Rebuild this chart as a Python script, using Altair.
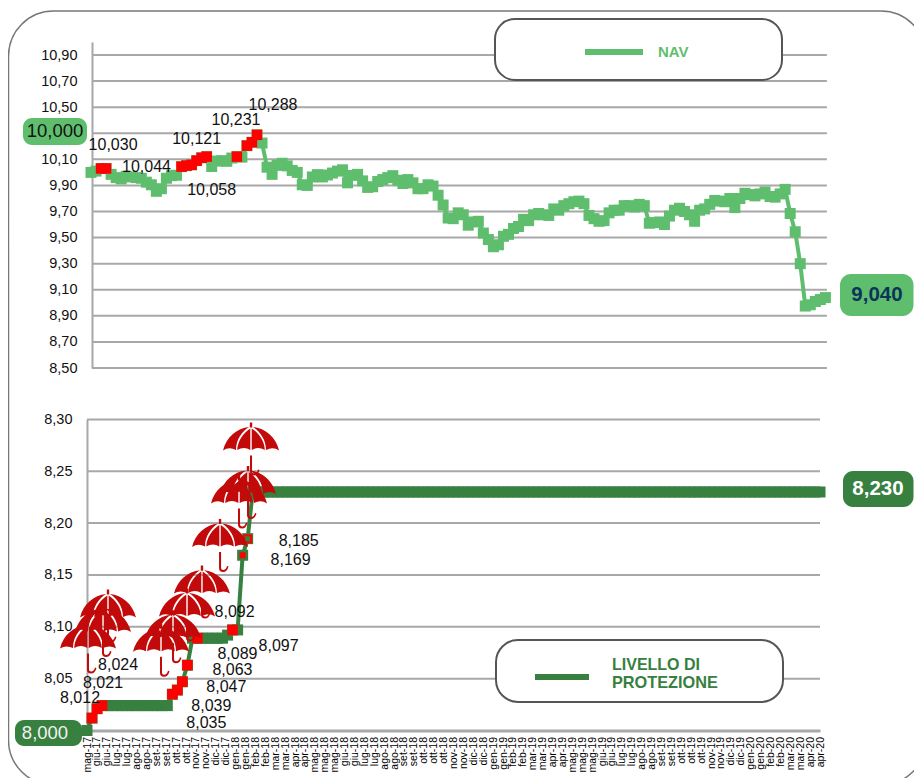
import json
import re
import altair as alt
import pandas as pd

period_labels = ["mag-17","giu-17","giu-17","lug-17","lug-17","ago-17","ago-17","set-17","set-17","ott-17","ott-17","nov-17","nov-17","dic-17","dic-17",
 "gen-18","gen-18","feb-18","feb-18","mar-18","mar-18","apr-18","apr-18","mag-18","mag-18","mag-18","giu-18","giu-18","lug-18","lug-18","ago-18","ago-18","set-18","set-18","ott-18","ott-18","ott-18","nov-18","nov-18","dic-18","dic-18",
 "gen-19","gen-19","feb-19","feb-19","mar-19","mar-19","apr-19","apr-19","mag-19","mag-19","mag-19","giu-19","giu-19","lug-19","lug-19","ago-19","ago-19","set-19","set-19","ott-19","ott-19","ott-19","nov-19","nov-19","dic-19","dic-19",
 "gen-20","gen-20","feb-20","feb-20","mar-20","mar-20","apr-20","apr-20"]

nav = [10.00,10.01,10.03,10.03,9.985,9.96,9.95,9.97,9.965,9.96,9.955,9.925,9.905,9.855,9.875,9.955,9.975,9.978,
 10.044,10.052,10.058,10.09,10.112,10.121,10.045,10.087,10.09,10.085,10.11,10.121,10.117,10.205,10.231,10.288,10.225,
 10.04,9.985,10.054,10.07,10.05,10.015,10.00,9.905,9.90,9.965,9.983,9.965,9.98,9.995,10.01,10.02,9.92,9.977,9.985,9.935,
 9.885,9.89,9.93,9.945,9.96,9.975,9.94,9.915,9.945,9.92,9.875,9.875,9.905,9.895,9.825,9.75,9.65,9.645,9.69,9.675,9.595,
 9.62,9.625,9.535,9.485,9.43,9.445,9.51,9.525,9.57,9.585,9.64,9.63,9.675,9.685,9.675,9.67,9.72,9.71,9.745,9.76,9.775,
 9.78,9.76,9.67,9.645,9.625,9.63,9.69,9.71,9.71,9.745,9.745,9.735,9.755,9.745,9.61,9.615,9.62,9.60,9.665,9.71,9.725,
 9.70,9.675,9.625,9.71,9.72,9.755,9.785,9.78,9.775,9.80,9.73,9.80,9.84,9.83,9.82,9.835,9.85,9.815,9.81,9.835,9.87,
 9.685,9.545,9.30,8.975,8.985,9.01,9.025,9.04]
protection = [8.0,8.012,8.021] + [8.024]*14 + [8.035,8.039,8.047,8.063,8.089] + [8.089]*6 + [8.092,8.097,8.097,8.169,8.185] + [8.23]*114
nav_red = [2,3,18,19,20,21,22,23,29,31,32,33]
prot_red = [1,2,3,17,18,19,20,22,29]

nav_ticks = [8.5,8.7,8.9,9.1,9.3,9.5,9.7,9.9,10.1,10.3,10.5,10.7,10.9]
prot_ticks = [8.0,8.05,8.1,8.15,8.2,8.25,8.3]
nav_tick_labels = [t for t in nav_ticks if t != 10.3]
prot_tick_labels = [t for t in prot_ticks if t != 8.0]

nav_labels = [(3,7,-23),(18,-35,0),(20,20,25),(23,-10,-18),(32,-16,-22),(33,16,-30)]
prot_labels = [(1,-12,-20),(2,6,-26),(3,16,-41),(17,34,29),(18,34,16),(19,44,5),(20,45,5),(22,40,16),(28,7,-23),(29,46,16),(31,48,5),(32,51,2)]

umbrella_week = [4.18,3.19,0.2,22.9,19.92,17.13,14.74,26.5,32.67,32.07,30.28]
umbrella_level = [8.136,8.122,8.106,8.159,8.137,8.116,8.103,8.204,8.297,8.255,8.246]

GREEN = "#5FBE6E"
DARK = "#37803F"
RED = "#FF0000"
GRID = "#A8A8A8"
FONT = "Liberation Sans"
W, H = 906, 770

top_x = alt.Scale(domain=[0,146], range=[83,817.4])
top_y = alt.Scale(domain=[8.5,11.0], range=[360,34], zero=False, nice=False)
low_x = alt.Scale(domain=[0,146], range=[79,812])
low_y = alt.Scale(domain=[8.0,8.3], range=[722.5,411.4], zero=False, nice=False)

comma = "replace(format(datum.value,'.2f'),'.',',')"

df_nav = pd.DataFrame({"w": range(len(nav)), "v": nav})
df_prot = pd.DataFrame({"w": range(len(protection)), "v": protection})
df_nav_red = df_nav[df_nav.w.isin(nav_red)]
df_prot_red = df_prot[df_prot.w.isin(prot_red)]
grid_top = pd.DataFrame({"v": nav_ticks, "a": 0.2, "b": 146.3})
grid_low = pd.DataFrame({"v": prot_ticks[1:], "a": 0, "b": 146})

label_values = [j*146/74 for j in range(75)]
label_expr = json.dumps(period_labels) + "[round(datum.value*74/146)]"


def X(scale, field="w"):
    return alt.X(f"{field}:Q", scale=scale, axis=None)


def Y(scale, field="v"):
    return alt.Y(f"{field}:Q", scale=scale, axis=None)


def box(x1, x2, y1, y2, **kw):
    return alt.Chart(pd.DataFrame({"k": [0]})).mark_rect(**kw).encode(
        x=alt.value(x1-8), x2=alt.value(x2-8), y=alt.value(y1-8), y2=alt.value(y2-8))


def note(txt, x, y, size, color, bold=False, align="center"):
    return alt.Chart(pd.DataFrame({"k": [0]})).mark_text(
        text=txt, font=FONT, fontSize=size, color=color, align=align, baseline="middle",
        fontWeight="bold" if bold else "normal").encode(x=alt.value(x-8), y=alt.value(y-8))


def hline(x1, x2, y, color):
    return alt.Chart(pd.DataFrame({"k": [0]})).mark_rule(color=color, strokeWidth=6).encode(
        x=alt.value(x1-8), x2=alt.value(x2-8), y=alt.value(y-8))


def scaled(path):
    return re.sub(r"-?\d+\.?\d*", lambda m: f"{float(m.group())/28:.3f}", path)


umbrella_path = scaled(
    "M-1.2 0L1.2 0L1.2 5L-1.2 5Z"
    "M-2 4.5C-14 5.5 -25 15 -28 28Q-22 24 -15 27.5C-15 17 -9 9 -2 4.5Z"
    "M-0.7 6C-7 10 -13.5 18 -13.8 27.5Q-7 23.5 -0.7 27.5Z"
    "M2 4.5C14 5.5 25 15 28 28Q22 24 15 27.5C15 17 9 9 2 4.5Z"
    "M0.7 6C7 10 13.5 18 13.8 27.5Q7 23.5 0.7 27.5Z"
    "M-1 33L1 33L1 49Q1 51 3 51Q6 51 7 47L8.5 47.5Q7 53 3 53Q-1 53 -1 49Z")

layers = [
    box(0.5+8, 926, 11, 785, fillOpacity=0, stroke="#777777", strokeWidth=1.5, cornerRadius=45),
    # top panel grid and axis
    alt.Chart(grid_top).mark_rule(color=GRID, strokeWidth=2).encode(
        x=alt.X("a:Q", scale=top_x, axis=None), x2="b:Q",
        y=alt.Y("v:Q", scale=top_y, axis=alt.Axis(
            orient="left", offset=-84, values=nav_tick_labels, labelExpr=comma, title=None, grid=False, ticks=False,
            domainColor=GRID, domainWidth=2, labelFont=FONT, labelFontSize=14.5, labelColor="#111111",
            labelPadding=15, labelOverlap=False, labelBound=False))),
    # lower panel grid and axes
    alt.Chart(grid_low).mark_rule(color=GRID, strokeWidth=2).encode(
        x=alt.X("a:Q", scale=low_x, axis=alt.Axis(
            orient="bottom", offset=-(H-722.5), values=label_values, labelExpr=label_expr, title=None, grid=False,
            ticks=False, domainColor=GRID, domainWidth=3, labelFont=FONT, labelFontSize=10.5, labelColor="#000000",
            labelAngle=270, labelAlign="right", labelBaseline="middle", labelPadding=6,
            labelOverlap=False, labelBound=False, labelFlush=False)),
        x2="b:Q",
        y=alt.Y("v:Q", scale=low_y, axis=alt.Axis(
            orient="left", offset=-79, values=prot_tick_labels, labelExpr=comma, title=None, grid=False, ticks=False,
            domainColor=GRID, domainWidth=2, labelFont=FONT, labelFontSize=14.5, labelColor="#111111",
            labelPadding=15, labelOverlap=False, labelBound=False))),
    # legend boxes
    box(495, 782, 19, 80, fill="white", stroke="#555555", strokeWidth=2, cornerRadius=20),
    hline(585, 643, 52, GREEN),
    note("NAV", 658, 52, 15, GREEN, True, "left"),
    box(496, 783, 640, 702, fill="white", stroke="#555555", strokeWidth=2, cornerRadius=22),
    hline(535, 589, 677, DARK),
    note("LIVELLO DI", 612, 665, 16, DARK, True, "left"),
    note("PROTEZIONE", 612, 683, 16.3, DARK, True, "left"),
    # series
    alt.Chart(df_nav).mark_line(color=GREEN, strokeWidth=4).encode(x=X(top_x), y=Y(top_y)),
    alt.Chart(df_nav).mark_square(color=GREEN, size=121, opacity=1).encode(x=X(top_x), y=Y(top_y)),
    alt.Chart(df_nav_red).mark_square(color=RED, size=110, opacity=1).encode(x=X(top_x), y=Y(top_y)),
    alt.Chart(df_prot).mark_line(color=DARK, strokeWidth=4).encode(x=X(low_x), y=Y(low_y)),
    alt.Chart(df_prot).mark_square(color=DARK, size=121, opacity=1).encode(x=X(low_x), y=Y(low_y)),
    alt.Chart(df_prot_red).mark_square(color=RED, size=110, opacity=1).encode(x=X(low_x), y=Y(low_y)),
    alt.Chart(df_prot[df_prot.w == 31]).mark_square(color=RED, size=36, opacity=1).encode(x=X(low_x), y=Y(low_y)),
    alt.Chart(df_prot[df_prot.w == 32]).mark_square(color=RED, size=49, opacity=1, filled=False, strokeWidth=2).encode(x=X(low_x), y=Y(low_y)),
    # umbrellas
    alt.Chart(pd.DataFrame({"w": umbrella_week, "v": umbrella_level})).mark_point(
        filled=True, shape=umbrella_path, size=3136, color="#C20A0A", opacity=1, strokeWidth=0
    ).encode(x=X(low_x), y=Y(low_y)),
    # badges
    box(23, 87, 118, 145, fill=GREEN, cornerRadius=9),
    note("10,000", 55, 131, 18.5, "#111111"),
    box(15, 82, 720, 746, fill=DARK, cornerRadius=9),
    note("8,000", 45, 733, 18.5, "#F2F2F2"),
    box(840, 913.5, 274, 316, fill=GREEN, cornerRadius=11),
    note("9,040", 877, 295, 20.5, "#0B3558", True),
    box(843, 913.5, 471, 507, fill=DARK, cornerRadius=10),
    note("8,230", 878, 489, 20.5, "#FFFFFF", True),
]

for w, dx, dy in nav_labels:
    row = df_nav[df_nav.w == w]
    layers.append(alt.Chart(row).mark_text(
        text=f"{nav[w]:.3f}".replace(".", ","), font=FONT, fontSize=16, color="#111111", dx=dx, dy=dy, baseline="middle"
    ).encode(x=X(top_x), y=Y(top_y)))
for w, dx, dy in prot_labels:
    row = df_prot[df_prot.w == w]
    layers.append(alt.Chart(row).mark_text(
        text=f"{protection[w]:.3f}".replace(".", ","), font=FONT, fontSize=16, color="#111111", dx=dx, dy=dy, baseline="middle"
    ).encode(x=X(low_x), y=Y(low_y)))

chart = alt.layer(*layers).resolve_scale(x="independent", y="independent").properties(
    width=W, height=H, padding=0, autosize=alt.AutoSizeParams(type="none")
).configure_view(stroke=None)

chart.save("out.html", embed_options={"renderer": "svg", "actions": False})
